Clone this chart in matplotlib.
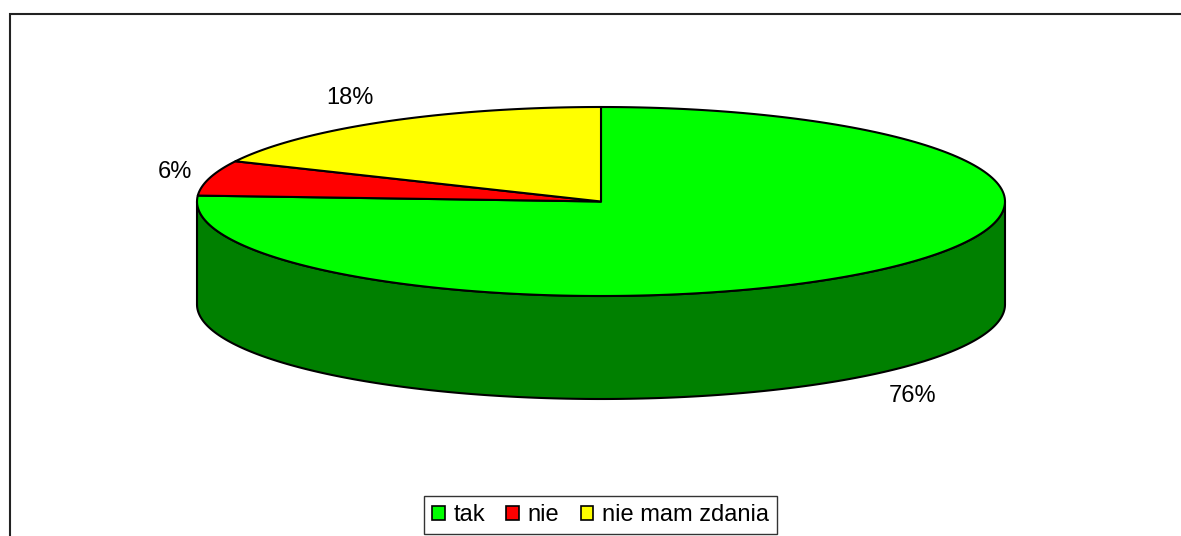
import numpy as np
import matplotlib
matplotlib.use("Agg")
import matplotlib.pyplot as plt
from matplotlib.patches import Polygon, Patch, Rectangle

# Survey answers and their shares (percent)
categories = ["tak", "nie", "nie mam zdania"]
shares = [76, 6, 18]
value_labels = ["76%", "6%", "18%"]
top_colors = ["#00FF00", "#FF0000", "#FFFF00"]
side_colors = ["#008000", "#800000", "#808000"]

W, H = 1181, 536
fig = plt.figure(figsize=(W / 100, H / 100), dpi=100)
ax = fig.add_axes([0, 0, 1, 1])
ax.set_xlim(0, W)
ax.set_ylim(H, 0)
ax.axis("off")

plt.rcParams["font.family"] = ["Liberation Sans", "DejaVu Sans"]

# Chart area frame
ax.add_patch(Rectangle((10, 14), W, H, facecolor="white", edgecolor="#222222",
                       lw=1.5, zorder=0))

# Geometry of the tilted pie (pixel units)
cx, cy, rx, ry, depth = 601, 201.5, 404, 94.5, 103


def arc(t0, t1, dz=0.0, n=200):
    t = np.radians(np.linspace(t0, t1, n))
    return np.column_stack([cx + rx * np.cos(t), cy - ry * np.sin(t) + dz])


# Slice angles: start at 12 o'clock, go clockwise
starts, ends = [], []
a = 90.0
for s in shares:
    starts.append(a)
    a -= s * 3.6
    ends.append(a)

# Front walls (visible lower half of the rim)
front_ranges = [(-540, -360), (-180, 0), (180, 360)]
for a0, a1, col in zip(starts, ends, side_colors):
    lo, hi = a1, a0
    for f0, f1 in front_ranges:
        t0, t1 = max(lo, f0), min(hi, f1)
        if t1 > t0:
            top = arc(t0, t1)
            bottom = arc(t1, t0, dz=depth)
            ax.add_patch(Polygon(np.vstack([top, bottom]), closed=True,
                                 facecolor=col, edgecolor="black", lw=1.5,
                                 joinstyle="round", zorder=2))

# Top faces
for a0, a1, col in zip(starts, ends, top_colors):
    pts = np.vstack([[cx, cy], arc(a0, a1)])
    ax.add_patch(Polygon(pts, closed=True, facecolor=col, edgecolor="black",
                         lw=1.5, joinstyle="round", zorder=3))

# Percentage labels placed just outside each slice
for a0, a1, lab in zip(starts, ends, value_labels):
    m = np.radians((a0 + a1) / 2)
    c, s = np.cos(m), np.sin(m)
    x = cx + rx * c + 35 * np.sign(c)
    y = cy - ry * s - 29 * s + (depth if s < 0 else 0)
    ax.text(x, y + 7, lab, ha="center", va="baseline", fontsize=17,
            color="black", zorder=4)

# Legend
handles = [Patch(facecolor=c, edgecolor="black", lw=1.2) for c in top_colors]
leg = fig.legend(handles, categories, loc="center",
                 bbox_to_anchor=(600.5 / W, 1 - 515 / H), ncol=3, fontsize=17,
                 frameon=True, fancybox=False, edgecolor="black",
                 handlelength=0.55, handleheight=0.55, handletextpad=0.35,
                 columnspacing=0.9, borderpad=0.35, borderaxespad=0)
leg.get_frame().set_linewidth(1.0)

fig.savefig("out.png", dpi=100, facecolor="white")
